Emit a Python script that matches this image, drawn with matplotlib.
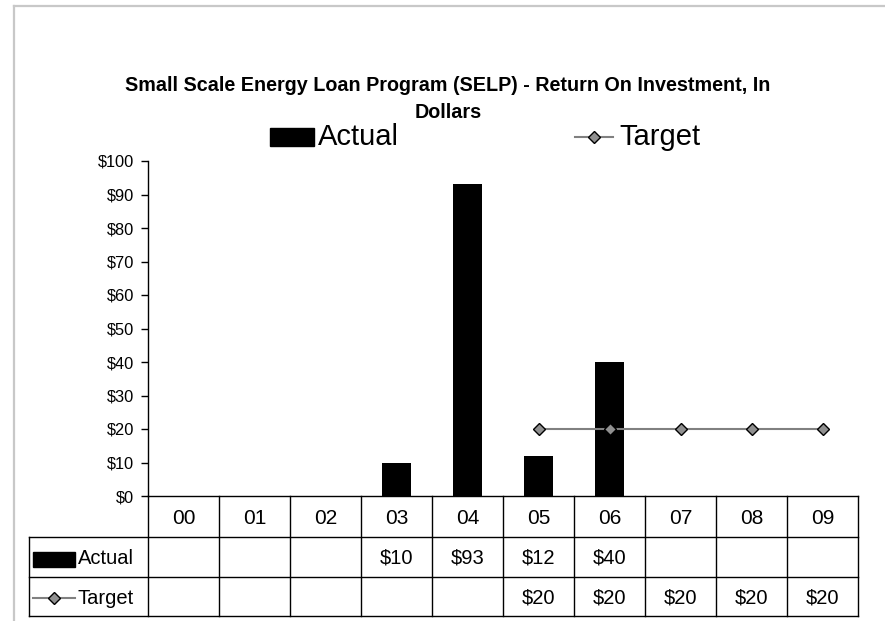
import matplotlib
matplotlib.use("Agg")
import matplotlib.pyplot as plt
from matplotlib.patches import Rectangle
from matplotlib.lines import Line2D
from matplotlib.transforms import blended_transform_factory
import numpy as np

# ---- data ----
categories = ["00", "01", "02", "03", "04", "05", "06", "07", "08", "09"]
actual = [None, None, None, 10, 93, 12, 40, None, None, None]
target = [None, None, None, None, None, 20, 20, 20, 20, 20]
yticks = [0, 10, 20, 30, 40, 50, 60, 70, 80, 90, 100]
title = "Small Scale Energy Loan Program (SELP) - Return On Investment, In\nDollars"
series_names = ["Actual", "Target"]

plt.rcParams['font.family'] = ['Liberation Sans', 'DejaVu Sans']

W, H = 885, 621
fig = plt.figure(figsize=(W / 100, H / 100), dpi=100)

def fx(px):
    return px / W

def fy(py):
    return 1 - py / H

# chart-area border (gray, top and left visible)
fig.add_artist(Line2D([fx(14), fx(14)], [fy(6), fy(640)], color="#c8c8c8", lw=1.6))
fig.add_artist(Line2D([fx(14), fx(900)], [fy(6), fy(6)], color="#c8c8c8", lw=1.6))

left, right, top, bottom = 148, 858, 161, 496
ax = fig.add_axes([fx(left), fy(bottom), (right - left) / W, (bottom - top) / H])

n = len(categories)
xs = np.arange(n) + 0.5
act_x = [x for x, v in zip(xs, actual) if v is not None]
act_v = [v for v in actual if v is not None]
tgt_x = [x for x, v in zip(xs, target) if v is not None]
tgt_v = [v for v in target if v is not None]

line_style = dict(color="#808080", lw=1.5, marker="D", markersize=6,
                  markerfacecolor="#909090", markeredgecolor="black", markeredgewidth=1.0)
bars = ax.bar(act_x, act_v, width=0.42, color="black", zorder=2)
line, = ax.plot(tgt_x, tgt_v, zorder=3, **line_style)

ax.set_xlim(0, n)
ax.set_ylim(0, 100)
ax.set_yticks(yticks)
ax.set_yticklabels([f"${t}" for t in yticks])
ax.tick_params(axis="y", direction="out", length=5, width=1, pad=5, labelsize=11.8)
ax.set_xticks([])
for s in ["top", "right"]:
    ax.spines[s].set_visible(False)
ax.spines["left"].set_linewidth(1)
ax.spines["bottom"].set_linewidth(1)
ax.patch.set_alpha(0)

# ---- data table ----
ph = bottom - top
def ay(py):
    return (bottom - py) / ph

trans = blended_transform_factory(ax.transData, ax.transAxes)
row_lines = [537, 577, 616]
lab_left = (29 - left) / (right - left)
lw = 1.0
for i in range(n + 1):
    ax.plot([i, i], [0, ay(616)], color="black", lw=lw, transform=trans, clip_on=False)
for r in row_lines:
    ax.plot([lab_left, 1], [ay(r), ay(r)], color="black", lw=lw, transform=ax.transAxes,
            clip_on=False)
ax.plot([lab_left, lab_left], [ay(537), ay(616)], color="black", lw=lw,
        transform=ax.transAxes, clip_on=False)

tfs = 14.5
for x, c in zip(xs, categories):
    ax.text(x, ay(518), c, ha="center", va="center", fontsize=15, transform=trans)
for x, v in zip(xs, actual):
    if v is not None:
        ax.text(x, ay(558), f"${v}", ha="center", va="center", fontsize=tfs, transform=trans)
for x, v in zip(xs, target):
    if v is not None:
        ax.text(x, ay(598), f"${v}", ha="center", va="center", fontsize=tfs, transform=trans)

# table legend keys
kx0 = (33 - left) / (right - left)
kx1 = (75 - left) / (right - left)
ax.add_patch(Rectangle((kx0, ay(567)), kx1 - kx0, ay(552) - ay(567), facecolor="black",
                       edgecolor="black", transform=ax.transAxes, clip_on=False))
ax.text((78 - left) / (right - left), ay(558), series_names[0], ha="left", va="center",
        fontsize=tfs, transform=ax.transAxes)
ax.add_line(Line2D([kx0, kx1], [ay(598), ay(598)], color="#808080", lw=1.5,
                   transform=ax.transAxes, clip_on=False))
ax.add_line(Line2D([(kx0 + kx1) / 2], [ay(598)], transform=ax.transAxes, clip_on=False,
                   **line_style))
ax.text((78 - left) / (right - left), ay(598), series_names[1], ha="left", va="center",
        fontsize=tfs, transform=ax.transAxes)

# ---- title ----
fig.text(fx(448), fy(99), title, ha="center", va="center", fontsize=14.2,
         fontweight="bold", linespacing=1.58)

# ---- top legend (drawn manually) ----
fig.add_artist(Rectangle((fx(270), fy(146)), fx(314) - fx(270), fy(128) - fy(146),
                         facecolor="black", edgecolor="black", transform=fig.transFigure))
fig.text(fx(318), fy(137), series_names[0], ha="left", va="center", fontsize=21)
fig.add_artist(Line2D([fx(575), fx(613)], [fy(137), fy(137)], color="#808080", lw=1.5))
fig.add_artist(Line2D([fx(594)], [fy(137)], **line_style))
fig.text(fx(619), fy(137), series_names[1], ha="left", va="center", fontsize=21)

fig.savefig("out.png", dpi=100)
